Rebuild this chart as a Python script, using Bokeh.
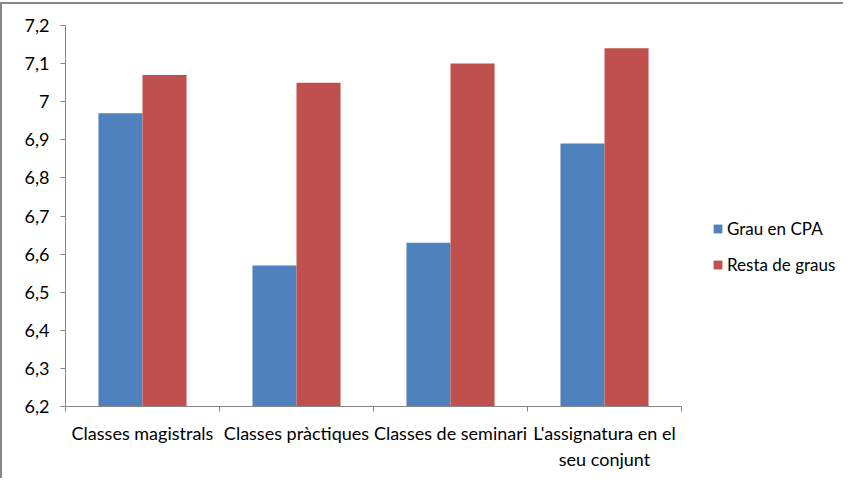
from bokeh.plotting import figure
from bokeh.models import Range1d, FixedTicker, ColumnDataSource, Legend, LegendItem
from bokeh.transform import dodge
from bokeh.embed import file_html
from bokeh.resources import INLINE

categories = ["Classes magistrals", "Classes pràctiques", "Classes de seminari", "L'assignatura en el\nseu conjunt"]
grau_cpa = [6.97, 6.57, 6.63, 6.89]
resta_graus = [7.07, 7.05, 7.10, 7.14]
series_names = ["Grau en CPA", "Resta de graus"]
y_ticks = [6.2, 6.3, 6.4, 6.5, 6.6, 6.7, 6.8, 6.9, 7.0, 7.1, 7.2]
y_tick_labels = ["6,2", "6,3", "6,4", "6,5", "6,6", "6,7", "6,8", "6,9", "7", "7,1", "7,2"]

FONT = "Lato"
FS = "18px"
n = len(categories)
xs = [i + 0.5 for i in range(n)]
src = ColumnDataSource(data=dict(x=xs, a=grau_cpa, b=resta_graus))

W, H = 843, 476
ML, MR, MT, MB = 63, 0, 21, 74
frame_w = W - ML - MR
x_end = n * frame_w / 616.0   # axis part of the frame is 616 px wide

p = figure(width=W, height=H, output_backend="svg", toolbar_location=None,
           x_range=Range1d(0, x_end), y_range=Range1d(y_ticks[0], y_ticks[-1]),
           min_border_left=ML, min_border_right=MR, min_border_top=MT, min_border_bottom=MB)
p.styles = {"border-left": "2px solid #868686", "border-top": "2px solid #868686",
            "box-sizing": "border-box", "margin-top": "2px"}
p.outline_line_color = None
p.xgrid.visible = False
p.ygrid.visible = False

bw = 0.286
r1 = p.vbar(x=dodge("x", -bw / 2, range=p.x_range), top="a", bottom=y_ticks[0], width=bw,
            source=src, fill_color="#4F81BD", line_color=None)
r2 = p.vbar(x=dodge("x", bw / 2, range=p.x_range), top="b", bottom=y_ticks[0], width=bw,
            source=src, fill_color="#C0504D", line_color=None)

# y axis
ya = p.yaxis[0]
ya.ticker = FixedTicker(ticks=y_ticks, minor_ticks=[])
ya.major_label_overrides = {t: l for t, l in zip(y_ticks, y_tick_labels)}
ya.axis_line_color = "#868686"
ya.major_tick_line_color = "#868686"
ya.major_tick_out = 5
ya.major_tick_in = 0
ya.major_label_standoff = 11
ya.major_label_text_font = FONT
ya.major_label_text_font_size = FS
ya.major_label_text_color = "#000000"

# x axis
xa = p.xaxis[0]
xa.bounds = (0, n)
xa.ticker = FixedTicker(ticks=xs, minor_ticks=list(range(n + 1)))
xa.major_label_overrides = {x: c for x, c in zip(xs, categories)}
xa.axis_line_color = "#868686"
xa.major_tick_line_color = None
xa.major_tick_out = 0
xa.major_tick_in = 0
xa.minor_tick_line_color = "#868686"
xa.minor_tick_out = 5
xa.minor_tick_in = 0
xa.major_label_standoff = 10
xa.major_label_text_font = FONT
xa.major_label_text_font_size = FS
xa.major_label_text_color = "#000000"

legend = Legend(items=[LegendItem(label=series_names[0], renderers=[r1]),
                       LegendItem(label=series_names[1], renderers=[r2])],
                location=(647, 131), border_line_color=None, background_fill_alpha=0,
                padding=0, margin=0, spacing=15, glyph_width=11, glyph_height=11,
                label_standoff=4, label_text_font=FONT, label_text_font_size="17px",
                label_text_color="#000000")
p.add_layout(legend, "center")

open("out.html", "w").write(file_html(p, INLINE))
